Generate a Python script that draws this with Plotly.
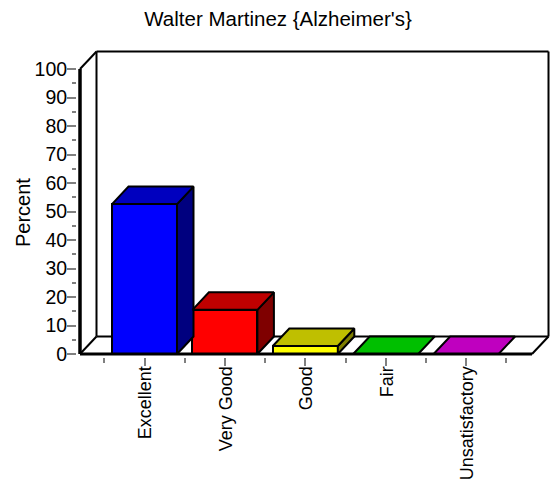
import plotly.graph_objects as go

categories = ["Excellent", "Very Good", "Good", "Fair", "Unsatisfactory"]
percent = [52.6, 15.5, 2.8, 0, 0]
front_colors = ["#0000FF", "#FF0000", "#FFFF00", "#00FF00", "#FF00FF"]
top_colors = ["#0000BF", "#BF0000", "#BFBF00", "#00BF00", "#BF00BF"]
side_colors = ["#00007F", "#7F0000", "#7F7F00", "#007F00", "#7F007F"]
title = "Walter Martinez {Alzheimer's}"
y_title = "Percent"
y_ticks = list(range(0, 101, 10))

W, H = 555, 480
cat_px, first_px = 80.4, 144.5      # pixels per category, first centre
val_px, zero_px = 2.85, 354.0       # pixels per percent, baseline
L, R, T, B = 77, 551, 48, 357       # plot area in pixels
dx = 16.5 / cat_px                  # 3D depth in axis units
dy = 17.5 / val_px
bar_w = 65 / cat_px
x_left = (80 - first_px) / cat_px
x_right = (532 - first_px) / cat_px

fig = go.Figure()
fig.add_trace(go.Bar(
    x=list(range(len(categories))), y=percent, width=bar_w,
    marker=dict(color=front_colors, line=dict(color="black", width=2)),
    cliponaxis=False, showlegend=False, hoverinfo="skip"))


def poly(xs, ys, color):
    fig.add_trace(go.Scatter(
        x=xs, y=ys, mode="lines", fill="toself", fillcolor=color,
        line=dict(color="black", width=2), cliponaxis=False,
        showlegend=False, hoverinfo="skip"))


for i, v in enumerate(percent):
    a, b = i - bar_w / 2, i + bar_w / 2
    if v > 0:
        poly([b, b + dx, b + dx, b, b], [0, dy, v + dy, v, 0], side_colors[i])
    poly([a, a + dx, b + dx, b, a], [v, v + dy, v + dy, v, v], top_colors[i])

# axis lines drawn over the marks
fig.add_trace(go.Scatter(x=[x_left, x_left], y=[0, 100], mode="lines",
                         line=dict(color="black", width=3.5), cliponaxis=False,
                         showlegend=False, hoverinfo="skip"))
fig.add_trace(go.Scatter(x=[x_left, x_right], y=[0, 0], mode="lines",
                         line=dict(color="black", width=3), cliponaxis=False,
                         showlegend=False, hoverinfo="skip"))

# 3D frame (back wall and floor), under the marks
frame = [
    ([x_left, x_left + dx], [100, 100 + dy]),
    ([x_left + dx, x_right + dx], [100 + dy, 100 + dy]),
    ([x_left + dx, x_left + dx], [dy, 100 + dy]),
    ([x_right + dx, x_right + dx], [dy, 100 + dy]),
    ([x_left + dx, x_right + dx], [dy, dy]),
    ([x_left, x_left + dx], [0, dy]),
    ([x_right, x_right + dx], [0, dy]),
]
for xs, ys in frame:
    fig.add_shape(type="line", x0=xs[0], x1=xs[1], y0=ys[0], y1=ys[1],
                  line=dict(color="black", width=2), layer="below")

font = "Liberation Sans, Arial, sans-serif"
fig.add_annotation(text=y_title, textangle=-90, xref="paper", yref="paper",
                   x=(23 - L) / (R - L), y=(B - 213) / (B - T), xanchor="center", yanchor="middle",
                   showarrow=False, font=dict(size=20, family=font, color="black"))
fig.update_layout(
    width=W, height=H, autosize=False,
    margin=dict(l=L, r=W - R, t=T, b=H - B, pad=0, autoexpand=False),
    paper_bgcolor="white", plot_bgcolor="white", bargap=0,
    font=dict(family=font, color="black"),
    title=dict(text=title, x=278 / W, xanchor="center", y=1 - 19 / H, yanchor="middle",
               font=dict(size=20.5, family=font, color="black")),
    xaxis=dict(
        automargin=False,
        range=[(L - first_px) / cat_px, (R - first_px) / cat_px],
        tickmode="array", tickvals=list(range(len(categories))), ticktext=categories,
        tickangle=-90, tickfont=dict(size=18), ticks="outside", ticklen=8,
        ticklabelstandoff=-7, ticklabelshift=1,
        tickcolor="#808080", tickwidth=2, showgrid=False, zeroline=False, showline=False,
        minor=dict(tickmode="array", tickvals=[i - 0.5 for i in range(len(categories) + 1)],
                   ticks="outside", ticklen=5, tickcolor="#808080", tickwidth=2, showgrid=False),
    ),
    yaxis=dict(
        automargin=False,
        range=[(zero_px - B) / val_px, (zero_px - T) / val_px],
        tickmode="array", tickvals=y_ticks, tickfont=dict(size=19.5), ticks="outside", ticklen=9,
        ticklabelstandoff=-4,
        tickcolor="#808080", tickwidth=2, showgrid=False, zeroline=False, showline=False,
        minor=dict(tickmode="array", tickvals=[t + 5 for t in y_ticks[:-1]],
                   ticks="outside", ticklen=4, tickcolor="#808080", tickwidth=2, showgrid=False),
    ),
)
fig.write_html("out.html", config=dict(displayModeBar=False),
               post_script="document.body.style.margin='0';document.documentElement.style.overflow='hidden';")
